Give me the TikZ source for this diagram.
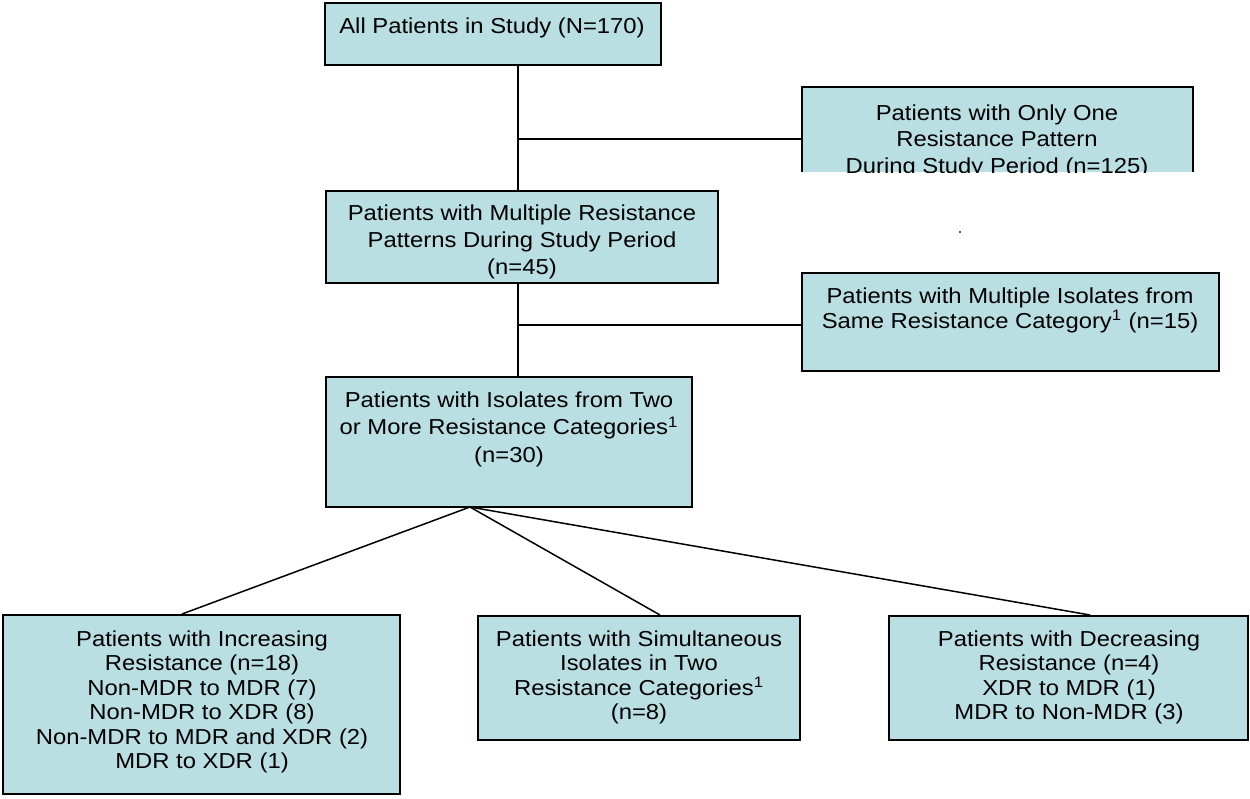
\documentclass[tikz,border=0pt]{standalone}
\usepackage{fontspec}
\setmainfont{Liberation Sans}[FakeStretch=1.1]
\usetikzlibrary{fit,calc}
\definecolor{boxfill}{RGB}{185,223,226}
\tikzset{
  box/.style={draw=black, line width=1.2pt, fill=boxfill, inner sep=0pt},
  txt/.style={align=center, inner sep=0pt, anchor=north, font=\fontsize{13}{14.7}\selectfont},
  txtwide/.style={txt, font=\fontsize{13}{16.4}\selectfont},
  conn/.style={draw=black, line width=0.9pt}
}
\begin{document}
\begin{tikzpicture}[x=0.6pt,y=-0.6pt]
\useasboundingbox (0,0) rectangle (1250,798);
% boxes
\node[box, fit={(325,3)(661,65)}] (b1) {};
\node[fill=boxfill, inner sep=0pt, fit={(802,87)(1193,172)}] (b2) {};
\node[box, fit={(326,191)(718,283)}] (b3) {};
\node[box, fit={(802,273)(1219,371)}] (b4) {};
\node[box, fit={(326,377)(692,507)}] (b5) {};
\node[box, fit={(3,615)(400,794)}] (b6) {};
\node[box, fit={(478,616)(800,740)}] (b7) {};
\node[box, fit={(889,616)(1248,740)}] (b8) {};
% texts
\node[txt] (t1) at (492,17) {All Patients in Study (N=170)};
\begin{scope}
\clip (802,87) rectangle (1193,172);
\node[txt, font=\fontsize{13}{16}\selectfont] (t2) at (997,104) {Patients with Only One\\Resistance Pattern\\During Study Period (n=125)};
\end{scope}
\draw[black, line width=1.2pt] (b2.south west) -- (b2.north west) -- (b2.north east) -- (b2.south east);
\node[txtwide] (t3) at (522,204) {Patients with Multiple Resistance\\Patterns During Study Period\\(n=45)};
\node[txt, font=\fontsize{13}{15}\selectfont] (t4) at (1010,287) {Patients with Multiple Isolates from\\Same Resistance Category\textsuperscript{1} (n=15)};
\node[txtwide, font=\fontsize{13}{16.6}\selectfont] (t5) at (509,391) {Patients with Isolates from Two\\or More Resistance Categories\textsuperscript{1}\\(n=30)};
\node[txt] (t6) at (202,630) {Patients with Increasing\\Resistance (n=18)\\Non-MDR to MDR (7)\\Non-MDR to XDR (8)\\Non-MDR to MDR and XDR (2)\\MDR to XDR (1)};
\node[txt] (t7) at (639,630) {Patients with Simultaneous\\Isolates in Two\\Resistance Categories\textsuperscript{1}\\(n=8)};
\node[txt] (t8) at (1069,630) {Patients with Decreasing\\Resistance (n=4)\\XDR to MDR (1)\\MDR to Non-MDR (3)};
% connectors
\coordinate (v1) at (518,65);
\coordinate (h1) at (518,139);
\coordinate (h2) at (518,325);
\coordinate (ap) at (470,507);
\draw[conn] (b1.south -| v1) -- (b3.north -| v1);
\draw[conn] (h1) -- (b2.west |- h1);
\draw[conn] (b3.south -| v1) -- (b5.north -| v1);
\draw[conn] (h2) -- (b4.west |- h2);
\draw[conn] (ap) -- (b6.north -| 182,615);
\draw[conn] (ap) -- (b7.north -| 660,616);
\draw[conn] (ap) -- (b8.north -| 1090,616);
% stray dot
\fill[black!70] (959,231) rectangle (961,233);
\end{tikzpicture}
\end{document}
